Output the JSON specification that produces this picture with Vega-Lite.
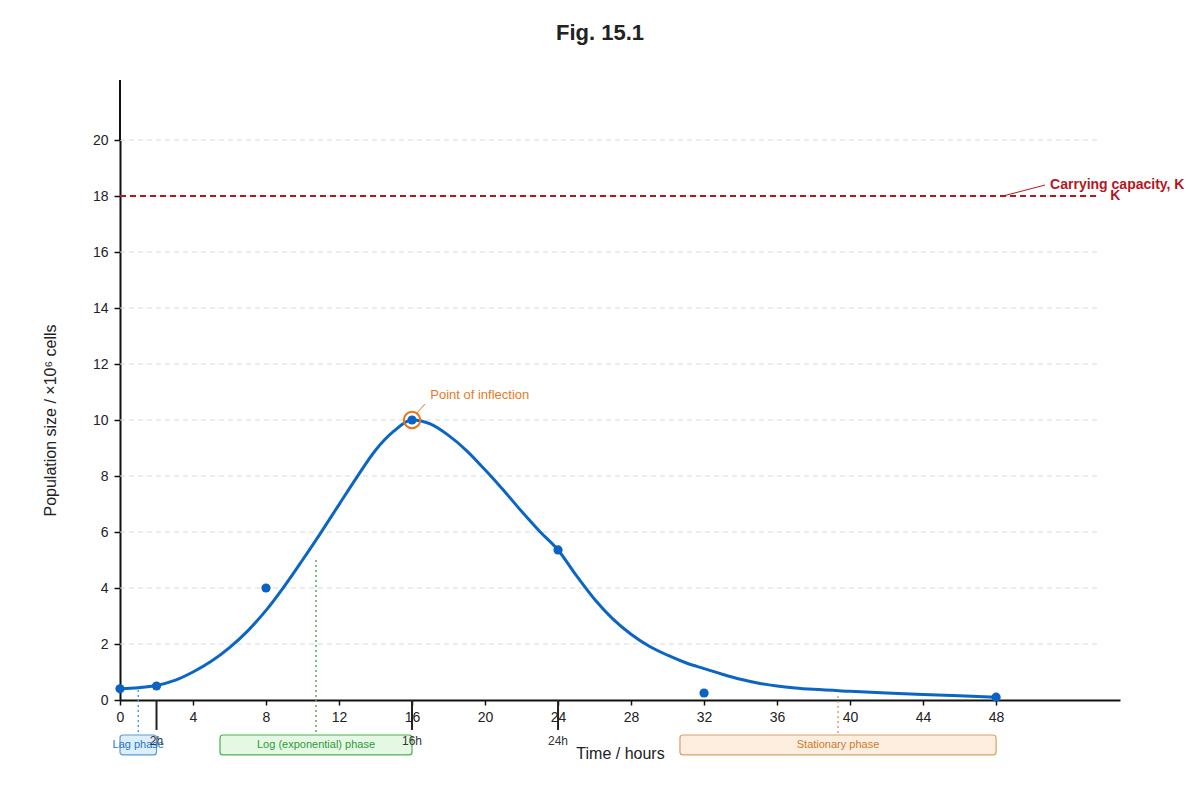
{
  "$schema": "https://vega.github.io/schema/vega-lite/v6.json",
  "width": 1000,
  "height": 560,
  "autosize": {"type": "none"},
  "padding": {"left": 120, "top": 140, "right": 80, "bottom": 100},
  "background": "white",
  "title": {"text": "Fig. 15.1", "fontSize": 22, "fontWeight": "bold", "color": "#222222", "anchor": "middle", "dx": -20, "offset": 34},
  "config": {
    "view": {"stroke": null},
    "font": "Liberation Sans",
    "axisX": {
      "titleFontSize": 16, "titleFontWeight": "normal", "titleColor": "#222222",
      "titlePadding": 21, "labelFontSize": 14, "labelColor": "#222222", "labelPadding": 5, "labelFlush": false,
      "tickSize": 5, "tickColor": "#111111", "tickWidth": 1.5, "domainColor": "#111111", "domainWidth": 2,
      "grid": false
    },
    "axisY": {
      "titleFontSize": 16, "titleFontWeight": "normal", "titleColor": "#222222",
      "titlePadding": 34, "labelFontSize": 14, "labelColor": "#222222", "labelPadding": 6, "labelFlush": false,
      "tickSize": 6, "tickColor": "#111111", "tickWidth": 1.5, "domainColor": "#111111", "domainWidth": 2,
      "grid": false
    }
  },
  "datasets": {
    "grid": [{"n": 2}, {"n": 4}, {"n": 6}, {"n": 8}, {"n": 10}, {"n": 12}, {"n": 14}, {"n": 16}, {"n": 18}, {"n": 20}],
    "curve": [
      {"t": 0, "n": 0.40}, {"t": 1, "n": 0.44}, {"t": 2, "n": 0.52}, {"t": 3, "n": 0.70},
      {"t": 4, "n": 1.0}, {"t": 5, "n": 1.38}, {"t": 6, "n": 1.87}, {"t": 7, "n": 2.47},
      {"t": 8, "n": 3.2}, {"t": 9, "n": 4.06}, {"t": 10, "n": 5.0}, {"t": 11, "n": 5.97},
      {"t": 12, "n": 6.98}, {"t": 13, "n": 7.98}, {"t": 14, "n": 8.92}, {"t": 15, "n": 9.6},
      {"t": 16, "n": 10.0}, {"t": 17, "n": 9.86}, {"t": 18, "n": 9.45}, {"t": 19, "n": 8.9},
      {"t": 20, "n": 8.22}, {"t": 21, "n": 7.5}, {"t": 22, "n": 6.74}, {"t": 23, "n": 6.02},
      {"t": 24, "n": 5.36}, {"t": 25, "n": 4.45}, {"t": 26, "n": 3.6}, {"t": 27, "n": 2.9},
      {"t": 28, "n": 2.35}, {"t": 29, "n": 1.92}, {"t": 30, "n": 1.6}, {"t": 31, "n": 1.33},
      {"t": 32, "n": 1.12}, {"t": 33, "n": 0.92}, {"t": 34, "n": 0.74}, {"t": 35, "n": 0.6},
      {"t": 36, "n": 0.5}, {"t": 37, "n": 0.43}, {"t": 38, "n": 0.38}, {"t": 40, "n": 0.31},
      {"t": 42, "n": 0.25}, {"t": 44, "n": 0.2}, {"t": 46, "n": 0.15}, {"t": 48, "n": 0.1}
    ],
    "points": [
      {"t": 0, "n": 0.4}, {"t": 2, "n": 0.5}, {"t": 8, "n": 4.0}, {"t": 16, "n": 10},
      {"t": 24, "n": 5.36}, {"t": 32, "n": 0.25}, {"t": 48, "n": 0.1}
    ],
    "inflection": [{"t": 16, "n": 10, "label": "Point of inflection"}],
    "capacity": [{"n": 18, "label": "Carrying capacity, K"}],
    "phases": [
      {"phase": "Lag phase", "start": 0, "end": 2, "mid": 1, "top": 0.36},
      {"phase": "Log (exponential) phase", "start": 5.48, "end": 16, "mid": 10.74, "top": 5.0},
      {"phase": "Stationary phase", "start": 30.68, "end": 48, "mid": 39.34, "top": 0.14}
    ],
    "marks": [{"t": 2, "label": "2h"}, {"t": 16, "label": "16h"}, {"t": 24, "label": "24h"}]
  },
  "layer": [
    {
      "data": {"name": "curve"},
      "mark": {"type": "line", "interpolate": "monotone", "stroke": "#0a66c2", "strokeWidth": 3, "opacity": 0},
      "encoding": {
        "x": {"field": "t", "type": "quantitative", "title": "Time / hours",
          "scale": {"domain": [0, 54.79], "nice": false, "zero": false},
          "axis": {"values": [0, 4, 8, 12, 16, 20, 24, 28, 32, 36, 40, 44, 48]}},
        "y": {"field": "n", "type": "quantitative", "title": "Population size / ×10⁶ cells",
          "scale": {"domain": [0, 20], "nice": false},
          "axis": {"values": [0, 2, 4, 6, 8, 10, 12, 14, 16, 18, 20]}}
      }
    },
    {
      "data": {"name": "grid"},
      "mark": {"type": "rule", "stroke": "#d9d9d9", "strokeDash": [5, 4], "strokeWidth": 1},
      "encoding": {
        "x": {"datum": 0, "type": "quantitative"},
        "x2": {"datum": 53.7},
        "y": {"field": "n", "type": "quantitative"}
      }
    },
    {
      "data": {"values": [{}]},
      "mark": {"type": "rule", "stroke": "#111111", "strokeWidth": 2, "clip": false},
      "encoding": {
        "x": {"datum": 0, "type": "quantitative"},
        "y": {"datum": 20, "type": "quantitative"},
        "y2": {"datum": 22.14}
      }
    },
    {
      "data": {"name": "capacity"},
      "mark": {"type": "rule", "stroke": "#b3171d", "strokeDash": [6, 4], "strokeWidth": 2},
      "encoding": {
        "x": {"datum": 0, "type": "quantitative"},
        "x2": {"datum": 53.7},
        "y": {"field": "n", "type": "quantitative"}
      }
    },
    {
      "data": {"name": "capacity"},
      "mark": {"type": "rule", "stroke": "#b3171d", "strokeWidth": 1},
      "encoding": {
        "x": {"datum": 48.38, "type": "quantitative"},
        "x2": {"datum": 50.68},
        "y": {"datum": 18.0, "type": "quantitative"},
        "y2": {"datum": 18.39}
      }
    },
    {
      "data": {"name": "capacity"},
      "mark": {"type": "text", "align": "left", "baseline": "middle", "fontSize": 14, "fontWeight": "bold", "fill": "#b3171d"},
      "encoding": {
        "x": {"datum": 50.96, "type": "quantitative"},
        "y": {"datum": 18.39, "type": "quantitative"},
        "text": {"field": "label"}
      }
    },
    {
      "data": {"name": "capacity"},
      "mark": {"type": "text", "align": "left", "baseline": "middle", "fontSize": 14, "fontWeight": "bold", "fill": "#b3171d", "text": "K"},
      "encoding": {
        "x": {"datum": 54.25, "type": "quantitative"},
        "y": {"datum": 18.0, "type": "quantitative"}
      }
    },
    {
      "data": {"name": "phases"},
      "mark": {"type": "rect", "cornerRadius": 3, "strokeWidth": 1.2},
      "encoding": {
        "x": {"field": "start", "type": "quantitative"},
        "x2": {"field": "end"},
        "y": {"datum": -1.25, "type": "quantitative"},
        "y2": {"datum": -1.96},
        "fill": {"field": "phase", "type": "nominal", "legend": null,
          "scale": {"domain": ["Lag phase", "Log (exponential) phase", "Stationary phase"], "range": ["#ddeeff", "#e4f8e4", "#fdeee0"]}},
        "stroke": {"field": "phase", "type": "nominal", "legend": null,
          "scale": {"domain": ["Lag phase", "Log (exponential) phase", "Stationary phase"], "range": ["#5b9bd5", "#4caf50", "#d9a066"]}}
      }
    },
    {
      "data": {"name": "phases"},
      "mark": {"type": "rule", "strokeDash": [2, 3], "strokeWidth": 1.5},
      "encoding": {
        "x": {"field": "mid", "type": "quantitative"},
        "y": {"field": "top", "type": "quantitative"},
        "y2": {"datum": -1.25},
        "stroke": {"field": "phase", "type": "nominal", "legend": null}
      }
    },
    {
      "data": {"name": "phases"},
      "mark": {"type": "text", "align": "center", "baseline": "middle", "fontSize": 11},
      "encoding": {
        "x": {"field": "mid", "type": "quantitative"},
        "y": {"datum": -1.61, "type": "quantitative"},
        "text": {"field": "phase"},
        "color": {"field": "phase", "type": "nominal", "legend": null,
          "scale": {"domain": ["Lag phase", "Log (exponential) phase", "Stationary phase"], "range": ["#2a75c9", "#2e9a3a", "#cc7a2e"]}}
      }
    },
    {
      "data": {"name": "marks"},
      "mark": {"type": "rule", "stroke": "#222222", "strokeWidth": 2},
      "encoding": {
        "x": {"field": "t", "type": "quantitative"},
        "y": {"datum": 0, "type": "quantitative"},
        "y2": {"datum": -1.07}
      }
    },
    {
      "data": {"name": "marks"},
      "mark": {"type": "text", "align": "center", "baseline": "middle", "fontSize": 12, "fill": "#333333"},
      "encoding": {
        "x": {"field": "t", "type": "quantitative"},
        "y": {"datum": -1.46, "type": "quantitative"},
        "text": {"field": "label"}
      }
    },
    {
      "data": {"name": "curve"},
      "mark": {"type": "line", "interpolate": "monotone", "stroke": "#0a66c2", "strokeWidth": 3},
      "encoding": {
        "x": {"field": "t", "type": "quantitative"},
        "y": {"field": "n", "type": "quantitative"}
      }
    },
    {
      "data": {"name": "points"},
      "mark": {"type": "circle", "color": "#0a62c4", "size": 85, "opacity": 1},
      "encoding": {
        "x": {"field": "t", "type": "quantitative"},
        "y": {"field": "n", "type": "quantitative"}
      }
    },
    {
      "data": {"name": "inflection"},
      "mark": {"type": "point", "filled": false, "shape": "circle", "stroke": "#e8731a", "strokeWidth": 2, "size": 270, "opacity": 1},
      "encoding": {
        "x": {"field": "t", "type": "quantitative"},
        "y": {"field": "n", "type": "quantitative"}
      }
    },
    {
      "data": {"name": "inflection"},
      "mark": {"type": "rule", "stroke": "#e8731a", "strokeWidth": 1},
      "encoding": {
        "x": {"datum": 16.27, "type": "quantitative"},
        "x2": {"datum": 16.71},
        "y": {"datum": 10.25, "type": "quantitative"},
        "y2": {"datum": 10.57}
      }
    },
    {
      "data": {"name": "inflection"},
      "mark": {"type": "text", "align": "left", "baseline": "middle", "fontSize": 13, "fill": "#e67a1e"},
      "encoding": {
        "x": {"datum": 17.0, "type": "quantitative"},
        "y": {"datum": 10.89, "type": "quantitative"},
        "text": {"field": "label"}
      }
    }
  ]
}
